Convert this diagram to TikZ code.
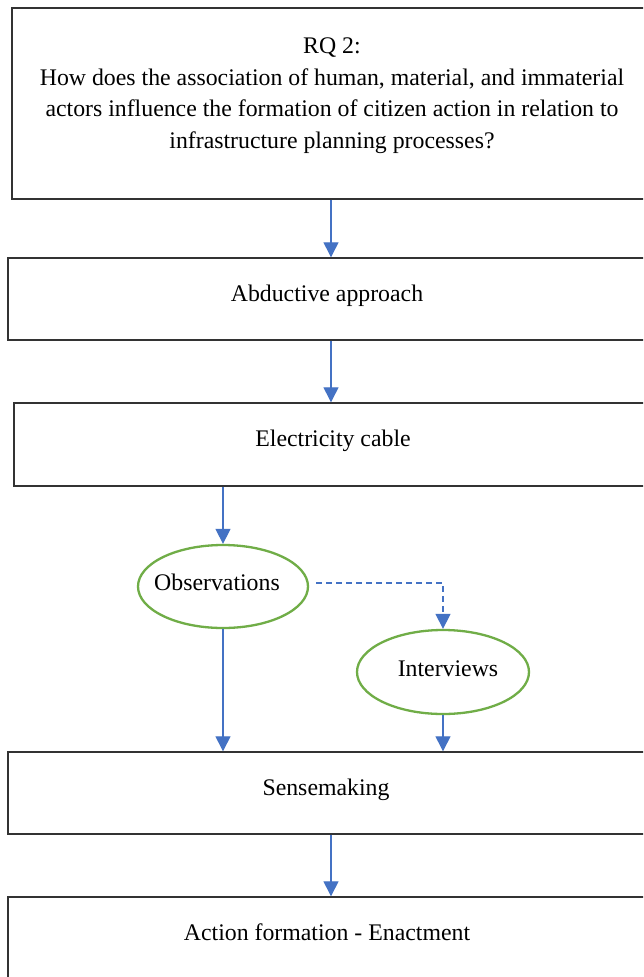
\documentclass[tikz,border=0pt]{standalone}
\usepackage{fontspec}
\setmainfont{Liberation Serif}
\usetikzlibrary{arrows.meta,shapes.geometric}
\definecolor{arrblue}{HTML}{4472C4}
\definecolor{ellgreen}{HTML}{70AD47}
\definecolor{boxline}{HTML}{333333}
\begin{document}
\begin{tikzpicture}[x=1pt,y=-1pt,
  every node/.style={font=\fontsize{23.8}{31.5}\selectfont},
  flowbox/.style={draw=boxline,line width=1.4pt,rectangle,inner sep=0pt,minimum height=82pt},
  oval/.style={draw=ellgreen,line width=2.3pt,ellipse,inner sep=0pt,minimum width=170pt,minimum height=83pt},
  arr/.style={draw=arrblue,line width=1.3pt,-{Triangle[width=15pt,length=15pt]}},
  dasharr/.style={arr,dash pattern=on 6pt off 4pt}
]
\useasboundingbox (0,0) rectangle (643,977);
\clip (0,0) rectangle (643,977);
\fill[white] (0,0) rectangle (643,977);
% boxes
\node[flowbox,minimum width=638pt,minimum height=191pt] (b1) at (331,103.5) {};
\node[align=center] (t1) at (332,95.5) {RQ 2:\\How does the association of human, material, and immaterial\\actors influence the formation of citizen action in relation to\\infrastructure planning processes?};
\node[flowbox,minimum width=646pt] (b2) at (331,299) {};
\node (t2) at (327,296) {Abductive approach};
\node[flowbox,minimum width=634pt,minimum height=83pt] (b3) at (331,444.5) {};
\node (t3) at (333,441) {Electricity cable};
\node[oval] (obs) at (223,586.5) {};
\node (t4) at (217,582) {Observations};
\node[oval,minimum width=172pt,minimum height=84pt] (int) at (443,672) {};
\node (t5) at (448,669) {Interviews};
\node[flowbox,minimum width=646pt] (b4) at (331,793) {};
\node (t6) at (326,790) {Sensemaking};
\node[flowbox,minimum width=646pt] (b5) at (331,938) {};
\node (t7) at (327,932) {Action formation - Enactment};
% connectors
\draw[arr] (b1.south) -- (b2.north);
\draw[arr] (b2.south) -- (b3.north);
\draw[arr] (b3.south -| obs.north) -- (obs.north);
\draw[arr] (obs.south) -- (obs.south |- b4.north);
\draw[arr] (int.south) -- (int.south |- b4.north);
\draw[arr] (b4.south) -- (b5.north);
\coordinate (d0) at (316,583);
\draw[dasharr] (d0) -| (int.north);
\end{tikzpicture}
\end{document}
